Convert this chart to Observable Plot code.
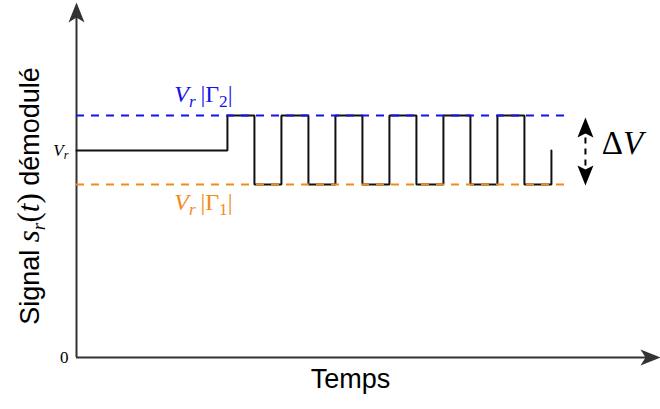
<!DOCTYPE html>
<html>
<head>
<meta charset="utf-8">
<script src="https://cdn.jsdelivr.net/npm/d3@7"></script>
<script src="https://cdn.jsdelivr.net/npm/@observablehq/plot@0.6"></script>
<style>
  body { margin: 0; background: #fff; }
  #chart svg { display: block; }
</style>
</head>
<body>
<div id="chart"></div>
<script>
// ---- data ----
const Vr = 1.0;        // reference level
const levelHigh = 1.169; // Vr|Γ2|
const levelLow = 0.836;  // Vr|Γ1|
const times = [0, 5.59, 6.59, 7.59, 8.59, 9.59, 10.59, 11.59, 12.59, 13.59, 14.59, 15.59, 16.59, 17.59];
const levels = [1.0, 1.169, 0.836, 1.169, 0.836, 1.169, 0.836, 1.169, 0.836, 1.169, 0.836, 1.169, 0.836, 1.0];
const blueEnd = 18.15;
const orangeEnd = 18.3;
const xMax = 21.63;
const yMax = 1.715;
const deltaX = 18.85;
const tickLabels = [{y: 0, label: "0"}, {y: 1.0, label: "VR"}];

const signal = times.map((t, i) => ({t, v: levels[i]}));

const blue = "#1414e6";
const orange = "#f28a1e";
const axisColor = "#333";
const serif = "'Liberation Serif', 'Times New Roman', serif";
const sans = "'Liberation Sans', Arial, sans-serif";

const arrowHead = (w, l, notch) => ({
  draw(ctx) {
    ctx.moveTo(0, 0);
    ctx.lineTo(w / 2, l);
    ctx.lineTo(0, l - notch);
    ctx.lineTo(-w / 2, l);
    ctx.closePath();
  }
});
const bigHead = arrowHead(16, 20, 5);
const smallHead = arrowHead(16, 20, 4);

const plot = Plot.plot({
  width: 660,
  height: 409,
  marginLeft: 76,
  marginRight: 0,
  marginTop: 2,
  marginBottom: 52,
  x: {domain: [0, xMax], axis: null},
  y: {domain: [0, yMax], axis: null},
  style: {background: "#fff", overflow: "visible"},
  marks: [
    // axes
    Plot.ruleX([0], {y1: 0, y2: yMax - 0.05, stroke: axisColor, strokeWidth: 2}),
    Plot.ruleY([0], {x1: 0, x2: xMax - 0.4, stroke: axisColor, strokeWidth: 2}),
    Plot.dot([{x: 0, y: yMax}], {x: "x", y: "y", symbol: bigHead, fill: axisColor, stroke: null}),
    Plot.dot([{x: xMax, y: 0}], {x: "x", y: "y", symbol: bigHead, rotate: 90, fill: axisColor, stroke: null}),
    // signal
    Plot.line(signal, {x: "t", y: "v", curve: "step-after", stroke: "#111", strokeWidth: 2, strokeLinejoin: "miter"}),
    // dashed levels
    Plot.ruleY([levelHigh], {x1: 0, x2: blueEnd, stroke: blue, strokeWidth: 2, strokeDasharray: "8,7"}),
    Plot.ruleY([levelLow], {x1: 0, x2: orangeEnd, stroke: orange, strokeWidth: 2, strokeDasharray: "8,7"}),
    // ΔV arrow
    Plot.ruleX([deltaX], {y1: 0.925, y2: 1.06, stroke: "#000", strokeWidth: 2, strokeDasharray: "6,5"}),
    Plot.dot([{x: deltaX, y: levelHigh - 0.01}], {x: "x", y: "y", symbol: smallHead, fill: "#000", stroke: null}),
    Plot.dot([{x: deltaX, y: levelLow - 0.005}], {x: "x", y: "y", symbol: smallHead, rotate: 180, fill: "#000", stroke: null}),
    // labels
    Plot.text(tickLabels, {x: 0, y: "y", text: "label", textAnchor: "end", dx: -8, fontSize: 17, fontFamily: serif, fill: "#000"}),
    Plot.text(["GAMMA2"], {x: 4.7, y: levelHigh, dy: -21, fontSize: 24, fontFamily: serif, fill: blue}),
    Plot.text(["GAMMA1"], {x: 4.7, y: levelLow, dy: 18, fontSize: 24, fontFamily: serif, fill: orange}),
    Plot.text(["DELTAV"], {x: 19.45, y: (levelHigh + levelLow) / 2, dy: -7, textAnchor: "start", fontSize: 33, fontFamily: serif, fill: "#000"}),
    Plot.text(["Temps"], {frameAnchor: "bottom", dx: -18, dy: 30, fontSize: 27, fontFamily: sans, fill: "#000"}),
    Plot.text(["YTITLE"], {frameAnchor: "left", textAnchor: "middle", dx: -46, dy: 16, rotate: -90, fontSize: 27, fontFamily: sans, fill: "#000"})
  ]
});

document.getElementById("chart").appendChild(plot);

// rich text replacement (sub/italic parts)
const rich = {
  "VR": [{t: "V", i: true}, {t: "r", i: true, sub: true}],
  "GAMMA2": [{t: "V", i: true}, {t: "r", i: true, sub: true}, {t: "\u2009|Γ"}, {t: "2", sub: true}, {t: "|"}],
  "GAMMA1": [{t: "V", i: true}, {t: "r", i: true, sub: true}, {t: "\u2009|Γ"}, {t: "1", sub: true}, {t: "|"}],
  "DELTAV": [{t: "Δ"}, {t: "V", i: true}],
  "YTITLE": [{t: "Signal "}, {t: "s", i: true, f: serif, s: 1.15}, {t: "r", i: true, sub: true, f: serif}, {t: "(", f: serif, s: 1.15}, {t: "t", i: true, f: serif, s: 1.15}, {t: ")", f: serif, s: 1.15}, {t: " démodulé"}]
};
d3.select(plot).selectAll("text").each(function () {
  const el = d3.select(this);
  const key = this.textContent;
  if (!rich[key]) return;
  const fs = parseFloat(getComputedStyle(this).fontSize) || 16;
  el.text(null);
  let shifted = false;
  for (const p of rich[key]) {
    const ts = el.append("tspan").text(p.t);
    if (p.i) ts.attr("font-style", "italic");
    if (p.f) ts.attr("font-family", p.f);
    if (p.s) ts.attr("font-size", fs * p.s);
    if (p.sub) {
      ts.attr("font-size", fs * 0.72);
      if (!shifted) { ts.attr("dy", fs * 0.2); shifted = true; }
    } else if (shifted) {
      ts.attr("dy", -fs * 0.2); shifted = false;
    }
  }
});
</script>
</body>
</html>
